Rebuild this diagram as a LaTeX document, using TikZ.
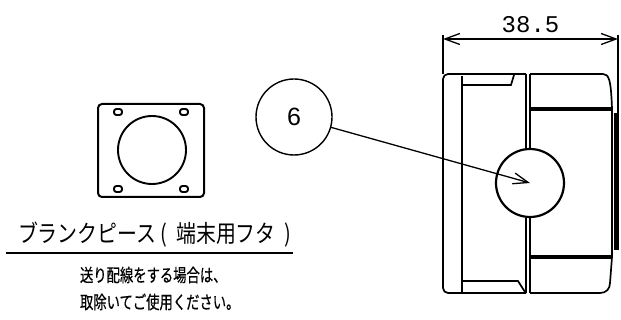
\documentclass[tikz,border=0pt]{standalone}
\usepackage{fontspec}
\setmainfont{Liberation Sans}
\newfontfamily\cadfont{Liberation Mono}
\newfontfamily\titlefont[FakeStretch=0.83]{Noto Sans CJK JP}
\newfontfamily\notefont[FakeStretch=0.74,FakeBold=0.4]{Noto Sans CJK JP}
\usetikzlibrary{arrows.meta}

\begin{document}
\begin{tikzpicture}[x=1pt,y=-1pt,line width=1.7pt,
    every node/.style={inner sep=0pt,outer sep=0pt},
    thin line/.style={line width=1.3pt},
    heavy line/.style={line width=4pt},
    slot/.style={draw,rounded corners=2.5pt,line width=1.9pt,minimum width=8pt,minimum height=6pt},
    round hole/.style={draw,circle,minimum size=#1},
    note text/.style={anchor=west,font=\notefont\fontsize{18}{18}\selectfont}]
    \useasboundingbox (0,0) rectangle (621,320);
    % blank piece
    \draw[line width=2pt,rounded corners=4pt] (98,104) rectangle (204,197);
    \node[round hole=68pt,line width=1.9pt] (plate) at (152,150) {};
    \node[slot] (s1) at (118,112) {};
    \node[slot] (s2) at (184,112) {};
    \node[slot] (s3) at (118,189) {};
    \node[slot] (s4) at (184,189) {};
    \node[anchor=west,font=\titlefont\fontsize{24}{24}\selectfont] (title) at (18,235) {ブランクピース\hspace*{4pt}(\hspace*{9pt}端末用フタ\hspace*{9pt})};
    \coordinate (ruleL) at (6,253);
    \coordinate (ruleR) at (293,253);
    \draw[line width=2pt] (ruleL) -- (ruleR);
    \node[note text] (noteA) at (80,275) {送り配線をする場合は、};
    \node[note text] (noteB) at (80,302) {取除いてご使用ください。};
    % side view
    \draw[rounded corners=5pt] (526,74) -- (443,74) -- (443,293) -- (526,293);
    \draw[line width=2.2pt] (462,76) -- (462,292);
    \draw (462,85) -- (511,85) -- (514,75);
    \draw (462,281) -- (518,281) -- (525,292);
    \draw (530,74) -- (603,74) .. controls (609,74) and (611,80) .. (612,109) -- (612,257);
    \draw (530,293) -- (600,293) .. controls (606,293) and (610,289) .. (610,283) -- (612,257);
    \draw (526,74) -- (526,149) (530,74) -- (530,149);
    \draw (526,217) -- (526,293) (530,217) -- (530,293);
    \draw[heavy line] (530,109) -- (612,109);
    \draw[heavy line] (530,257) -- (612,257);
    \draw[line width=5pt] (616,113) -- (616,250);
    \node[round hole=68pt,line width=2.2pt,fill=white] (hole) at (530,183) {};
    % dimension
    \coordinate (dimL) at (443,39);
    \coordinate (dimR) at (618,39);
    \draw[thin line] (443,35) -- (443,74);
    \draw[thin line] (618,35) -- (618,113);
    \draw[thin line,{Straight Barb[length=15pt,width=11pt]}-{Straight Barb[length=15pt,width=11pt]}] (dimL) -- node[above=6pt,font=\cadfont\fontsize{24}{24}\selectfont] (size) {38.5} (dimR);
    % balloon
    \node[round hole=76pt,line width=1.4pt,font=\fontsize{25}{25}\selectfont] (balloon) at (294,117) {6};
    \coordinate (tip) at (530,183);
    \draw[thin line,-{Straight Barb[length=15pt,width=11pt]}] (balloon) -- (tip);
  \end{tikzpicture}
\end{document}
